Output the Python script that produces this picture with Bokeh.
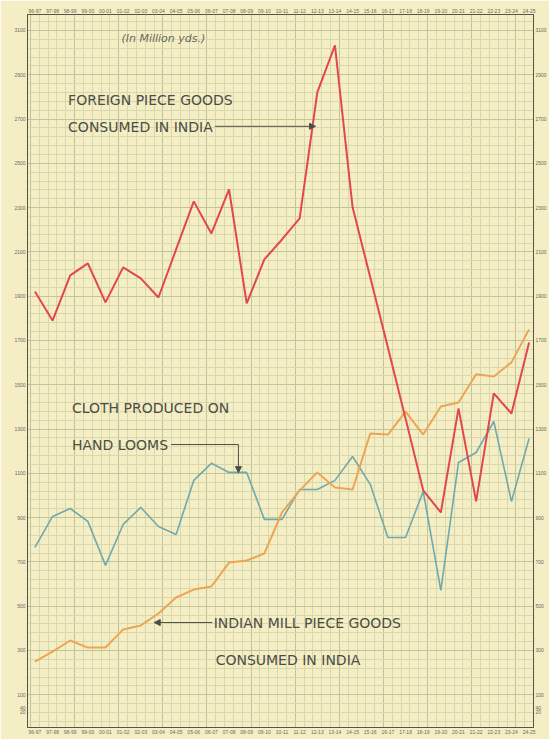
from bokeh.plotting import figure
from bokeh.models import Range1d, LinearAxis, FixedTicker, Arrow, NormalHead, ColumnDataSource
from bokeh.core.properties import value
from bokeh.embed import file_html
from bokeh.resources import INLINE

years = ["96-97", "97-98", "98-99", "99-00", "00-01", "01-02", "02-03", "03-04",
         "04-05", "05-06", "06-07", "07-08", "08-09", "09-10", "10-11", "11-12",
         "12-13", "13-14", "14-15", "15-16", "16-17", "17-18", "18-19", "19-20",
         "20-21", "21-22", "22-23", "23-24", "24-25"]

foreign = [1921, 1790, 1994, 2048, 1872, 2030, 1980, 1894, 2111, 2328, 2183, 2382,
           1867, 2066, 2156, 2251, 2820, 3033, 2301, 1985, 1668, 1348, 1023, 923,
           1393, 973, 1461, 1370, 1691]

mill = [250, 295, 345, 313, 313, 395, 413, 467, 539, 575, 589, 697, 706, 738, 923,
        1023, 1104, 1036, 1027, 1280, 1275, 1379, 1275, 1402, 1420, 1547, 1537,
        1601, 1750]

handloom = [765, 905, 941, 883, 684, 869, 946, 860, 824, 1068, 1145, 1104, 1104,
            892, 892, 1027, 1027, 1068, 1176, 1050, 810, 810, 1018, 571, 1149, 1194,
            1334, 973, 1257]

y_ticks = [20, 40, 100, 300, 500, 700, 900, 1100, 1300, 1500, 1700, 1900, 2100,
           2300, 2500, 2700, 2900, 3100]

idx = list(range(len(years)))

PAPER = "#f5eec5"
INK = "#4d4d45"

p = figure(width=549, height=739, x_range=Range1d(-0.42, 28.25), y_range=Range1d(-48, 3172),
           output_backend="svg", toolbar_location=None,
           min_border_left=27, min_border_right=11, min_border_top=14, min_border_bottom=12)
p.background_fill_color = PAPER
p.border_fill_color = PAPER
p.outline_line_color = "#55554a"
p.outline_line_width = 1

# graph-paper grid
p.xgrid.ticker = FixedTicker(ticks=[i * 2.5 - 0.25 for i in range(13)],
                             minor_ticks=[i * 0.5 - 0.25 for i in range(60)])
p.ygrid.ticker = FixedTicker(ticks=[100 + 200 * i for i in range(16)],
                             minor_ticks=[-60 + 40 * i for i in range(82)])
for g in (p.xgrid, p.ygrid):
    g.grid_line_color = "#bfc59a"
    g.grid_line_width = 1
    g.minor_grid_line_color = "#d6d9ae"
    g.minor_grid_line_width = 1

def style_axis(ax):
    ax.major_label_text_font_size = "5px"
    ax.major_label_text_color = "#6a6a5a"
    ax.major_label_standoff = 2
    ax.major_tick_out = 0
    ax.major_tick_in = 0
    ax.minor_tick_out = 0
    ax.minor_tick_in = 0
    ax.axis_line_color = "#55554a"

labels = {i: years[i] for i in idx}
p.xaxis.ticker = FixedTicker(ticks=idx)
p.xaxis.major_label_overrides = labels
top = LinearAxis(ticker=FixedTicker(ticks=idx), major_label_overrides=labels)
p.add_layout(top, "above")
p.yaxis.ticker = FixedTicker(ticks=y_ticks)
right = LinearAxis(ticker=FixedTicker(ticks=y_ticks))
p.add_layout(right, "right")
for ax in p.axis:
    style_axis(ax)

src = ColumnDataSource(dict(x=idx, foreign=foreign, mill=mill, handloom=handloom))
p.line("x", "handloom", source=src, line_color="#6fa9ad", line_width=1.6)
p.line("x", "mill", source=src, line_color="#eea553", line_width=2)
p.line("x", "foreign", source=src, line_color="#e2474d", line_width=2)

font = value("DejaVu Sans")
p.text(x=[4.9], y=[3064], text=["(In Million yds.)"], text_font=font,
       text_font_size="11px", text_font_style="italic", text_color="#6a6a5a",
       text_baseline="middle")
p.text(x=[1.88, 1.88, 2.1, 2.1, 10.13, 10.24],
       y=[2784, 2662, 1393, 1230, 426, 259],
       text=["FOREIGN PIECE GOODS", "CONSUMED IN INDIA", "CLOTH PRODUCED ON",
             "HAND LOOMS", "INDIAN MILL PIECE GOODS", "CONSUMED IN INDIA"],
       text_font=font, text_font_size="14px", text_color=INK, text_baseline="middle")

head = dict(size=6, fill_color=INK, line_color=INK)
p.add_layout(Arrow(end=NormalHead(**head), x_start=10.2, y_start=2667, x_end=15.9, y_end=2667,
                   line_color=INK, line_width=1))
p.segment(x0=[7.72], y0=[1230], x1=[11.53], y1=[1230], line_color=INK, line_width=1)
p.add_layout(Arrow(end=NormalHead(**head), x_start=11.53, y_start=1230, x_end=11.53, y_end=1103,
                   line_color=INK, line_width=1))
p.add_layout(Arrow(end=NormalHead(**head), x_start=10.05, y_start=426, x_end=6.76, y_end=426,
                   line_color=INK, line_width=1))

open("out.html", "w").write(file_html(p, INLINE))
